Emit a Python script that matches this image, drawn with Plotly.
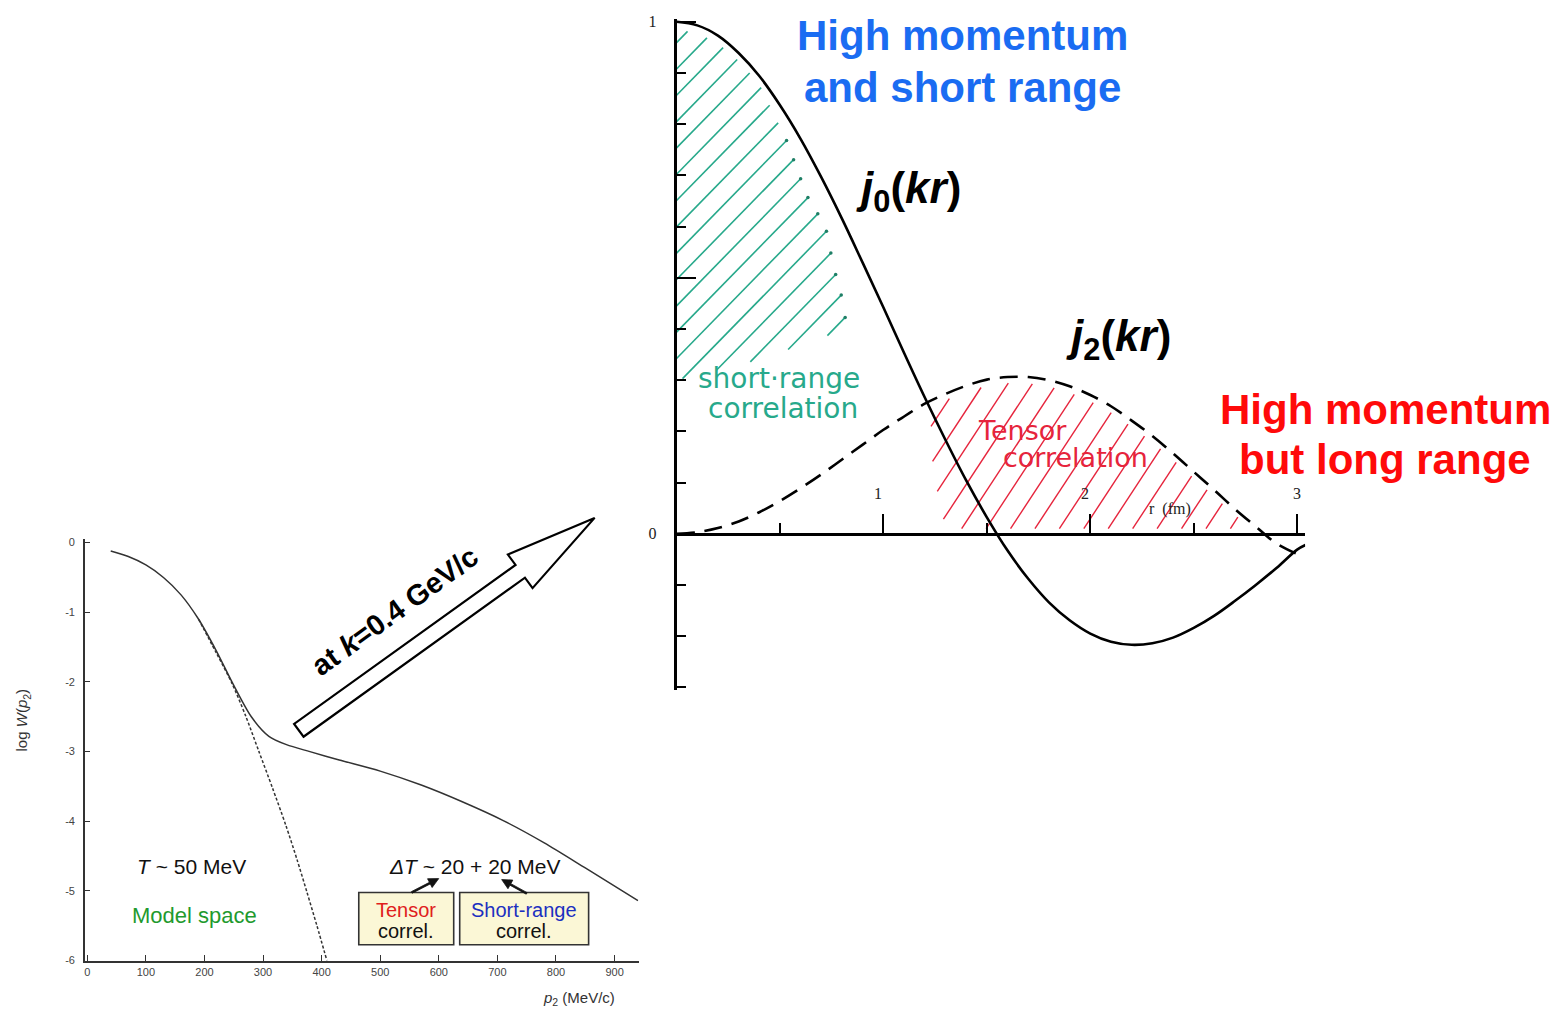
import math
import plotly.graph_objects as go

W, H = 1560, 1018

# ---------------- left panel: momentum distribution ----------------
p2_total = [40, 70, 100, 130, 160, 190, 220, 250, 280, 310, 340, 380, 430, 500,
            570, 640, 710, 780, 850, 940]
logW_total = [-0.12, -0.20, -0.32, -0.50, -0.75, -1.10, -1.55, -2.05, -2.50, -2.78,
              -2.90, -3.00, -3.12, -3.28, -3.48, -3.72, -3.99, -4.31, -4.67, -5.14]
p2_model = [190, 220, 247, 270, 293, 316, 339, 358, 375, 392, 409]
logW_model = [-1.10, -1.58, -2.02, -2.48, -3.00, -3.52, -4.06, -4.55, -5.02, -5.50, -6.00]
p2_ticks = [0, 100, 200, 300, 400, 500, 600, 700, 800, 900]
logW_ticks = [0, -1, -2, -3, -4, -5, -6]

# ---------------- right panel: j0(kr) and j2(kr) ----------------
r_j0 = [0.0, 0.1, 0.2, 0.3, 0.4, 0.5, 0.6, 0.7, 0.8, 0.9, 1.0, 1.1, 1.2, 1.3, 1.4, 1.5,
        1.6, 1.7, 1.8, 1.9, 2.0, 2.1, 2.2, 2.3, 2.4, 2.5, 2.6, 2.7, 2.8, 2.9, 3.0, 3.04]
j0_vals = [1.0, 0.993, 0.973, 0.939, 0.894, 0.837, 0.771, 0.696, 0.615, 0.529, 0.442,
           0.353, 0.266, 0.183, 0.104, 0.032, -0.033, -0.088, -0.134, -0.169, -0.195,
           -0.211, -0.217, -0.214, -0.203, -0.184, -0.160, -0.131, -0.100, -0.067,
           -0.031, -0.022]
r_j2 = [0.0, 0.1, 0.2, 0.3, 0.4, 0.5, 0.6, 0.7, 0.8, 0.9, 1.0, 1.1, 1.2, 1.3, 1.4, 1.5,
        1.6, 1.7, 1.8, 1.9, 2.0, 2.1, 2.2, 2.3, 2.4, 2.5, 2.6, 2.7, 2.8, 2.9, 3.03]
j2_vals = [0.0, 0.003, 0.011, 0.024, 0.042, 0.064, 0.089, 0.116, 0.145, 0.174, 0.203,
           0.229, 0.254, 0.273, 0.289, 0.301, 0.306, 0.306, 0.300, 0.288, 0.271, 0.249,
           0.221, 0.191, 0.157, 0.121, 0.085, 0.048, 0.014, -0.019, -0.045]
r_ticks = [1, 2, 3]
r_tick_text = ["1", "2", "3"]

# outline of the short-range (green) hatched area, below the j0 curve
sr_top_cut = 0.47
sr_edge_r = [0.53, 0.63, 0.72, 0.76, 0.80, 0.82, 0.75, 0.40, 0.0]
sr_edge_v = [0.77, 0.66, 0.60, 0.52, 0.46, 0.41, 0.39, 0.34, 0.30]
# outline of the tensor (red) hatched area, below the j2 curve
tc_left_r = [1.30, 1.24, 1.23, 1.28]
tc_left_v = [0.01, 0.12, 0.21, 0.262]
tc_top_range = (1.3, 2.7)
tc_right_r, tc_right_v = 2.79, 0.01

# ---------------- panel geometry (pixels) ----------------
L_X0, L_X1, L_Y0, L_Y1 = 84, 638, 966, 539.5
L_XR, L_YR = [-4, 941], [-6, 0.05]
R_X0, R_X1, R_Y0, R_Y1 = 676, 1305, 692, 13.4
R_XR, R_YR = [0, (R_X1 - R_X0) / 207.0], [-0.305, 1.005]


def PX(x):
    return x / W


def PY(y):
    return 1 - y / H


def r2px(r):
    return R_X0 + (r - R_XR[0]) / (R_XR[1] - R_XR[0]) * (R_X1 - R_X0)


def v2px(v):
    return R_Y0 - (v - R_YR[0]) / (R_YR[1] - R_YR[0]) * (R_Y0 - R_Y1)


def px2r(x):
    return R_XR[0] + (x - R_X0) / (R_X1 - R_X0) * (R_XR[1] - R_XR[0])


def px2v(y):
    return R_YR[0] + (R_Y0 - y) / (R_Y0 - R_Y1) * (R_YR[1] - R_YR[0])


def hatch(poly, angle_deg, spacing, phase=0.5):
    """Clip parallel lines (angle in screen degrees) to a polygon given in pixels."""
    th = math.radians(angle_deg)
    d = (math.cos(th), -math.sin(th))
    n = (math.sin(th), math.cos(th))
    proj = [n[0] * x + n[1] * y for x, y in poly]
    segs = []
    c = min(proj) + spacing * phase
    m = len(poly)
    while c < max(proj):
        pts = []
        for i in range(m):
            (x1, y1), (x2, y2) = poly[i], poly[(i + 1) % m]
            a, b = proj[i] - c, proj[(i + 1) % m] - c
            if (a < 0) != (b < 0):
                t = a / (a - b)
                pts.append((x1 + t * (x2 - x1), y1 + t * (y2 - y1)))
        pts.sort(key=lambda p: d[0] * p[0] + d[1] * p[1])
        for k in range(0, len(pts) - 1, 2):
            segs.append((pts[k], pts[k + 1]))
        c += spacing
    return segs


def seg_trace(segs, color, width):
    xs, ys = [], []
    for (a, b) in segs:
        xs += [px2r(a[0]), px2r(b[0]), None]
        ys += [px2v(a[1]), px2v(b[1]), None]
    return go.Scatter(x=xs, y=ys, xaxis="x2", yaxis="y2", mode="lines",
                      line=dict(color=color, width=width), hoverinfo="skip",
                      showlegend=False)


# green region polygon (pixels)
sr_poly = [(r2px(r), v2px(v - 0.015)) for r, v in zip(r_j0, j0_vals) if r <= sr_top_cut]
sr_poly += [(r2px(r), v2px(v)) for r, v in zip(sr_edge_r, sr_edge_v)]
sr_segs = hatch(sr_poly, 46, 18.5)

# red region polygon (pixels)
tc_poly = [(r2px(r), v2px(v)) for r, v in zip(tc_left_r, tc_left_v)]
tc_poly += [(r2px(r), v2px(v - 0.012)) for r, v in zip(r_j2, j2_vals)
            if tc_top_range[0] <= r <= tc_top_range[1]]
tc_poly += [(r2px(tc_right_r), v2px(tc_right_v))]
tc_segs = hatch(tc_poly, 57, 20.5, phase=0.3)

GREEN = "#27a98b"
RED_H = "#e6243c"

fig = go.Figure()

# hatching
fig.add_trace(seg_trace(sr_segs, GREEN, 1.6))
lower_ends = [b for a, b in sr_segs if px2r(b[0]) > 0.5]
fig.add_trace(go.Scatter(x=[px2r(b[0]) for b in lower_ends],
                         y=[px2v(b[1]) for b in lower_ends],
                         xaxis="x2", yaxis="y2", mode="markers",
                         marker=dict(color="#1f7f66", size=3.5), hoverinfo="skip",
                         showlegend=False))
fig.add_trace(seg_trace(tc_segs, RED_H, 1.4))

# Bessel curves
fig.add_trace(go.Scatter(x=r_j0, y=j0_vals, xaxis="x2", yaxis="y2", mode="lines",
                         line=dict(color="black", width=2.6, shape="spline"),
                         name="j0(kr)", showlegend=False))
fig.add_trace(go.Scatter(x=r_j2, y=j2_vals, xaxis="x2", yaxis="y2", mode="lines",
                         line=dict(color="black", width=2.6, shape="spline",
                                   dash="18px,10px"),
                         name="j2(kr)", showlegend=False))

# momentum distribution curves
fig.add_trace(go.Scatter(x=p2_model, y=logW_model, xaxis="x", yaxis="y", mode="lines",
                         line=dict(color="#333333", width=1.5, shape="spline",
                                   smoothing=0.8, dash="3px,2px"),
                         name="model space", showlegend=False))
fig.add_trace(go.Scatter(x=p2_total, y=logW_total, xaxis="x", yaxis="y", mode="lines",
                         line=dict(color="#333333", width=1.5, shape="spline",
                                   smoothing=0.8),
                         name="total", showlegend=False))

left_tick_font = dict(family="Liberation Sans, Arial, sans-serif", size=11, color="#444444")
serif_font = dict(family="Liberation Serif, DejaVu Serif, serif", size=16, color="#222222")

fig.update_layout(
    width=W, height=H,
    margin=dict(l=0, r=0, t=0, b=0),
    paper_bgcolor="white", plot_bgcolor="rgba(0,0,0,0)",
    showlegend=False,
    xaxis=dict(domain=[PX(L_X0), PX(L_X1)], range=L_XR, anchor="y",
               showline=True, linecolor="#333333", linewidth=1.5, mirror=False,
               showgrid=False, zeroline=False, ticks="inside", ticklen=6,
               tickcolor="#333333", tickwidth=1.2,
               tickvals=p2_ticks, ticktext=[str(v) for v in p2_ticks],
               tickfont=left_tick_font),
    yaxis=dict(domain=[PY(L_Y0), PY(L_Y1)], range=L_YR, anchor="x",
               showline=True, linecolor="#333333", linewidth=1.5,
               showgrid=False, zeroline=False, ticks="inside", ticklen=5,
               tickcolor="#333333", tickwidth=1.2,
               tickvals=logW_ticks, ticktext=[str(v) for v in logW_ticks],
               tickfont=left_tick_font, ticklabelstandoff=6),
    xaxis2=dict(domain=[PX(R_X0), PX(R_X1)], range=R_XR, anchor="free",
                position=PY(v2px(0)),
                showline=True, linecolor="black", linewidth=3,
                showgrid=False, zeroline=False, ticks="inside", ticklen=19,
                tickwidth=2.2, tickcolor="black", tickvals=r_ticks,
                showticklabels=False,
                minor=dict(ticks="inside", dtick=0.5, tick0=0, ticklen=10,
                           tickwidth=2, tickcolor="black")),
    yaxis2=dict(domain=[PY(R_Y0), PY(R_Y1)], range=R_YR, anchor="x2",
                showline=True, linecolor="black", linewidth=2.6,
                showgrid=False, zeroline=False, ticks="inside", ticklen=20,
                tickwidth=2, tickcolor="black",
                tickvals=[0, 0.5, 1], ticktext=["0", " ", "1"],
                tickfont=serif_font, ticklabelstandoff=14,
                minor=dict(ticks="inside", dtick=0.1, tick0=0, ticklen=10,
                           tickwidth=2, tickcolor="black")),
)

ann = []


def text(x, y, s, size, color="black", family="Liberation Sans, Arial, sans-serif",
         angle=0, **kw):
    ann.append(dict(x=PX(x), y=PY(y), xref="paper", yref="paper", text=s,
                    showarrow=False, xanchor="center", yanchor="middle",
                    textangle=angle, font=dict(size=size, color=color, family=family), **kw))


# axis titles of the left panel
text(22, 722, "log <i>W</i>(<i>p</i><sub>2</sub>)", 15, "#333333", angle=-90)
text(578, 1004, "<i>p</i><sub>2</sub> (MeV/c)", 15, "#333333")

# r-axis labels of the right panel
for rv, lab in zip(r_ticks, r_tick_text):
    ann.append(dict(x=rv, y=0, xref="x2", yref="y2", text=lab, showarrow=False,
                    xanchor="center", yanchor="middle", yshift=40,
                    xshift=-5 if rv < 3 else 0, font=serif_font))
text(1170, 509, "r  (fm)", 16, "#222222", family="Liberation Serif, DejaVu Serif, serif")

# panel annotations
text(191, 871, "<i>T</i> ~ 50 MeV", 21, "#111111")
text(194, 920, "Model space", 22, "#1f9a2e")
text(474, 871, "<i>Δ</i><i>T</i> ~ 20 + 20 MeV", 21, "#111111")
text(405, 915, "Tensor", 20, "#e0201c")
text(405, 936, "correl.", 20, "#111111")
text(523, 915, "Short-range", 20, "#1c2fc0")
text(523, 936, "correl.", 20, "#111111")

# big arrow text
text(394, 612, "<b>at <i>k</i>=0.4 GeV/c</b>", 29, "black", angle=-36)

# right panel labels
BOLD = "Liberation Sans, Arial, sans-serif"
text(962, 30, "<b>High momentum</b>", 42, "#1a6cf2", family=BOLD)
text(962, 82, "<b>and short range</b>", 42, "#1a6cf2", family=BOLD)
text(1385, 408, "<b>High momentum</b>", 42, "#ff0a0a", family=BOLD)
text(1385, 459, "<b>but long range</b>", 42, "#ff0a0a", family=BOLD)
text(908, 187, "<b><i>j</i><sub>0</sub>(<i>kr</i>)</b>", 44, "black", family=BOLD)
text(1118, 337, "<b><i>j</i><sub>2</sub>(<i>kr</i>)</b>", 44, "black", family=BOLD)

HAND = "DejaVu Sans, sans-serif"
text(778, 377, "short·range", 28, GREEN, family=HAND)
text(783, 407, "correlation", 28, GREEN, family=HAND)
text(1022, 430, "Tensor", 27, RED_H, family=HAND)
text(1075, 457, "correlation", 27, RED_H, family=HAND)

fig.update_layout(annotations=ann)

# boxes under the energy split, their pointer arrows, and the hollow arrow
shapes = []
for x0, x1 in [(358, 453), (459, 588)]:
    shapes.append(dict(type="rect", xref="paper", yref="paper",
                       x0=PX(x0), x1=PX(x1), y0=PY(950), y1=PY(897),
                       fillcolor="#fbf7d6", line=dict(color="#333333", width=1.6),
                       layer="below"))


def arrow_path(tail, tip, shaft_w, head_w, head_len):
    ux, uy = tip[0] - tail[0], tip[1] - tail[1]
    L = math.hypot(ux, uy)
    ux, uy = ux / L, uy / L
    nx, ny = -uy, ux
    base = (tail[0] + ux * (L - head_len), tail[1] + uy * (L - head_len))
    pts = [
        (tail[0] + nx * shaft_w, tail[1] + ny * shaft_w),
        (base[0] + nx * shaft_w, base[1] + ny * shaft_w),
        (base[0] + nx * head_w, base[1] + ny * head_w),
        tip,
        (base[0] - nx * head_w, base[1] - ny * head_w),
        (base[0] - nx * shaft_w, base[1] - ny * shaft_w),
        (tail[0] - nx * shaft_w, tail[1] - ny * shaft_w),
    ]
    return "M " + " L ".join(f"{PX(x):.5f},{PY(y):.5f}" for x, y in pts) + " Z"


# small solid pointers from the boxes to the energy split
for tail, tip in [((411, 897), (438, 883)), ((526, 898), (501, 884))]:
    shapes.append(dict(type="path", xref="paper", yref="paper",
                       path=arrow_path(tail, tip, 0.9, 5, 10),
                       fillcolor="#111111", line=dict(color="#111111", width=0.8)))

shapes.append(dict(type="path", xref="paper", yref="paper",
                   path=arrow_path((298, 733), (594, 518), 8, 21, 92),
                   fillcolor="white", line=dict(color="black", width=2.2)))
fig.update_layout(shapes=shapes)

fig.write_html("out.html")
